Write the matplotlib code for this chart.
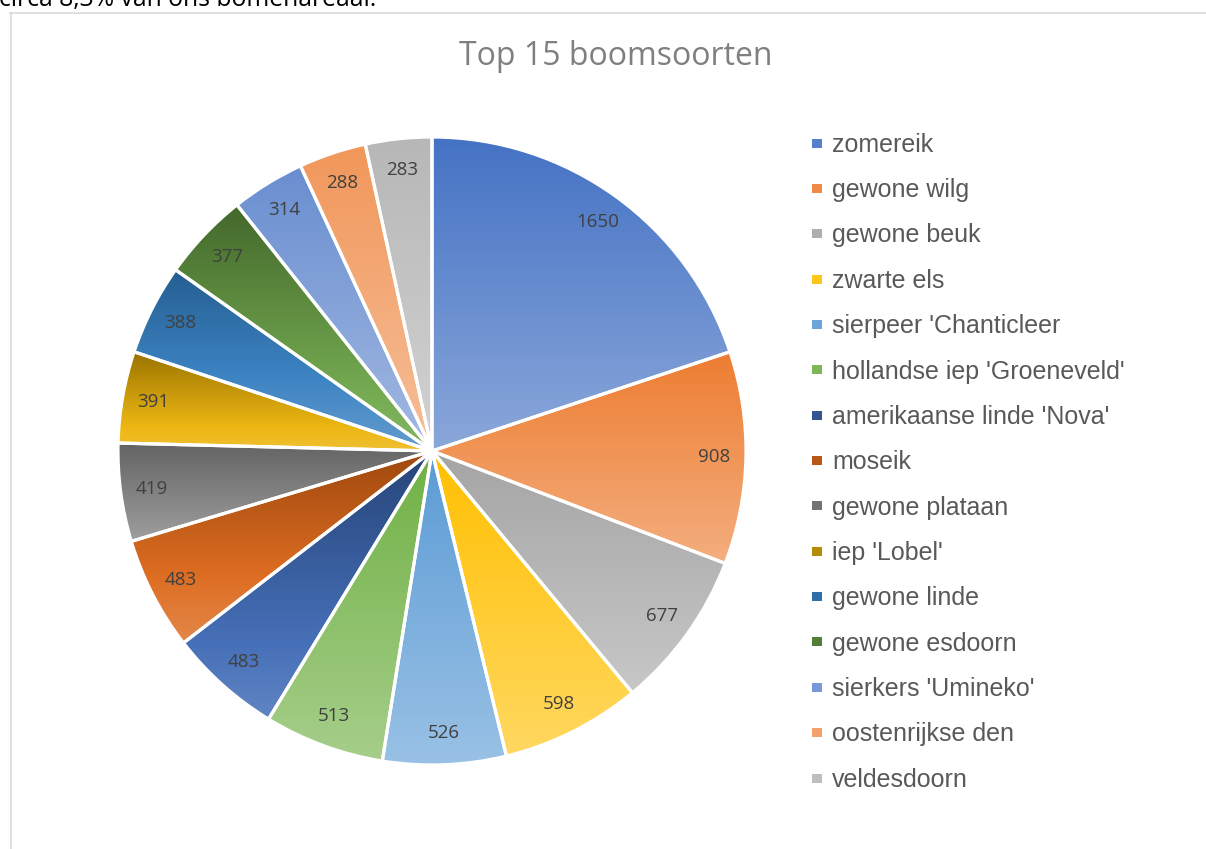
import colorsys
import numpy as np
import matplotlib
matplotlib.use("Agg")
import matplotlib.pyplot as plt
from matplotlib.colors import to_rgb
from matplotlib.patches import Rectangle

# Gegevens
soorten = ["zomereik", "gewone wilg", "gewone beuk", "zwarte els",
           "sierpeer 'Chanticleer", "hollandse iep 'Groeneveld'",
           "amerikaanse linde 'Nova'", "moseik", "gewone plataan",
           "iep 'Lobel'", "gewone linde", "gewone esdoorn",
           "sierkers 'Umineko'", "oostenrijkse den", "veldesdoorn"]
aantallen = [1650, 908, 677, 598, 526, 513, 483, 483, 419, 391, 388, 377, 314, 288, 283]
kleuren = ["#4472C4", "#ED7D31", "#A5A5A5", "#FFC000", "#5B9BD5", "#70AD47",
           "#264478", "#9E480E", "#636363", "#997300", "#255E91", "#43682B",
           "#698ED0", "#F1975A", "#B7B7B7"]
titel = "Top 15 boomsoorten"
kop_tekst = "circa 8,3% van ons bomenareaal."

W, H = 1206, 849
totaal = sum(aantallen)


def lichter(kleur, t):
    # HLS-lichter maken, een klein beetje naar wit gemengd
    r, g, b = to_rgb(kleur)
    h, l, s = colorsys.rgb_to_hls(r, g, b)
    c = np.array(colorsys.hls_to_rgb(h, l + (1 - l) * t, s))
    wit = np.array([r, g, b]) + (1 - np.array([r, g, b])) * t
    return tuple(0.75 * c + 0.25 * wit)


fig = plt.figure(figsize=(W / 100, H / 100), dpi=100)
ax = fig.add_axes([0, 0, 1, 1])

# Taartdiagram (pixelcoordinaten, y omhoog)
cx, cy, R = 432, H - 451, 314
wedges, teksten, labels = ax.pie(
    aantallen, colors=kleuren, startangle=90, counterclock=False,
    center=(cx, cy), radius=R,
    autopct=lambda p: f"{round(p * totaal / 100):.0f}", pctdistance=0.9,
    wedgeprops=dict(edgecolor="white", linewidth=2.3),
    textprops=dict(color="#404040", fontsize=13.5, family="Open Sans"))

# Verloop per taartpunt: boven basiskleur, onder lichter
for w, k in zip(wedges, kleuren):
    bb = w.get_path().get_extents()
    n = 256
    t = np.linspace(0, 0.38, n)
    grad = np.array([lichter(k, v) for v in t]).reshape(n, 1, 3)
    im = ax.imshow(grad, extent=[bb.x0, bb.x1, bb.y0, bb.y1], origin="upper",
                   aspect="auto", zorder=1, interpolation="bilinear")
    im.set_clip_path(w)
    w.set_facecolor("none")
    w.set_zorder(2)
for lb in labels:
    lb.set_zorder(4)

# Titel
ax.text(616, H - 56, titel, ha="center", va="center", fontsize=23,
        color="#7f7f7f", family="Open Sans")

# Legenda
for i, (naam, k) in enumerate(zip(soorten, kleuren)):
    y = H - (143 + i * 45.36)
    ax.add_patch(Rectangle((812, y - 4.5), 10, 9, facecolor=lichter(k, 0.1),
                           edgecolor="none", zorder=3))
    ax.text(832, y - 8.7, naam, ha="left", va="baseline", fontsize=18,
            color="#595959", family="Liberation Sans")

# Kader van het diagram
ax.plot([10.5, 10.5], [0, H - 12.5], color="#d9d9d9", lw=1.2, zorder=0)
ax.plot([10, W], [H - 12.5, H - 12.5], color="#d9d9d9", lw=1.2, zorder=0)

# Afgesneden tekst bovenaan
ax.text(-1, H - 6, kop_tekst, ha="left", va="baseline", fontsize=17.8,
        color="#000000", family="Open Sans")

ax.set_xlim(0, W)
ax.set_ylim(0, H)
ax.set_aspect("equal")
ax.axis("off")

fig.savefig("out.png", dpi=100)
